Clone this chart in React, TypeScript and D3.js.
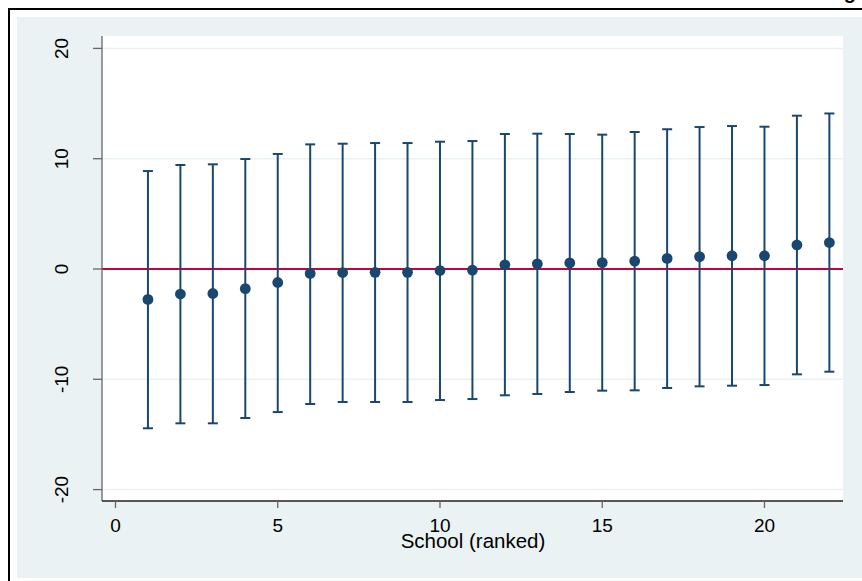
import React from "react";
import * as d3 from "d3";

const schools = [1,2,3,4,5,6,7,8,9,10,11,12,13,14,15,16,17,18,19,20,21,22];
const estimates = [-2.76,-2.27,-2.22,-1.78,-1.22,-0.4,-0.32,-0.3,-0.3,-0.14,-0.1,0.38,0.47,0.55,0.58,0.72,0.96,1.12,1.2,1.2,2.18,2.4];
const upper = [8.88,9.43,9.49,9.97,10.43,11.3,11.36,11.42,11.42,11.54,11.6,12.24,12.27,12.24,12.18,12.42,12.67,12.87,12.96,12.9,13.9,14.1];
const lower = [-14.44,-13.99,-13.99,-13.51,-12.97,-12.24,-12.06,-12.06,-12.06,-11.88,-11.79,-11.45,-11.33,-11.15,-11.03,-11.0,-10.79,-10.64,-10.58,-10.52,-9.55,-9.31];
const xTicks = [0,5,10,15,20];
const yTicks = [-20,-10,0,10,20];
const xTitle = "School (ranked)";
const chartTitle = "School ranking";

const W = 862, H = 581;
const navy = "#1a476f";
const red = "#c10534";
const bg = "#eaf2f3";
const font = "'Liberation Sans', Arial, Helvetica, sans-serif";

export default function App() {
  const left = 102, right = 843, top = 36, bottom = 501;
  const x = d3.scaleLinear().domain([-0.416, 22.42]).range([left, right]);
  const y = d3.scaleLinear().domain([0, 20]).range([269, 48.4]);
  return (
    <svg width={W} height={H} style={{ position: "absolute", left: 0, top: 0, background: "#fff" }}>
      <text x={856} y={-1} textAnchor="end" fontFamily={font} fontWeight="bold" fontSize={20} fill="#000">{chartTitle}</text>
      <rect x={9} y={9} width={W + 20} height={H + 20} fill="#fff" stroke="#000" strokeWidth={2} />
      <rect x={17} y={17} width={W - 17 + 5} height={578 - 17} fill={bg} />
      <rect x={left} y={top} width={right - left} height={bottom - top} fill="#fff" />
      {yTicks.filter(t => t !== 0).map(t => (
        <line key={"g" + t} x1={left} x2={right} y1={y(t)} y2={y(t)} stroke={bg} strokeWidth={1.5} />
      ))}
      <line x1={left} x2={right} y1={y(0)} y2={y(0)} stroke={red} strokeWidth={2} />
      {schools.map((s, i) => (
        <g key={s}>
          <line x1={x(s)} x2={x(s)} y1={y(upper[i])} y2={y(lower[i])} stroke={navy} strokeWidth={2} />
          <line x1={x(s) - 5} x2={x(s) + 5} y1={y(upper[i])} y2={y(upper[i])} stroke={navy} strokeWidth={2} />
          <line x1={x(s) - 5} x2={x(s) + 5} y1={y(lower[i])} y2={y(lower[i])} stroke={navy} strokeWidth={2} />
          <circle cx={x(s)} cy={y(estimates[i])} r={5.4} fill={navy} />
        </g>
      ))}
      <line x1={left} x2={left} y1={top} y2={bottom} stroke="#666" strokeWidth={1.3} />
      <line x1={left} x2={right} y1={bottom} y2={bottom} stroke="#222" strokeWidth={1.3} />
      {yTicks.map(t => (
        <g key={"y" + t}>
          <line x1={left - 9} x2={left} y1={y(t)} y2={y(t)} stroke="#666" strokeWidth={1.3} />
          <text transform={`translate(68,${y(t)}) rotate(-90)`} textAnchor="middle" fontFamily={font} fontSize={19} fill="#000">{t}</text>
        </g>
      ))}
      {xTicks.map(t => (
        <g key={"x" + t}>
          <line x1={x(t)} x2={x(t)} y1={bottom} y2={bottom + 7} stroke="#666" strokeWidth={1.3} />
          <text x={x(t)} y={532} textAnchor="middle" fontFamily={font} fontSize={19} fill="#000">{t}</text>
        </g>
      ))}
      <text x={473} y={548} textAnchor="middle" fontFamily={font} fontSize={20.5} fill="#000">{xTitle}</text>
    </svg>
  );
}
